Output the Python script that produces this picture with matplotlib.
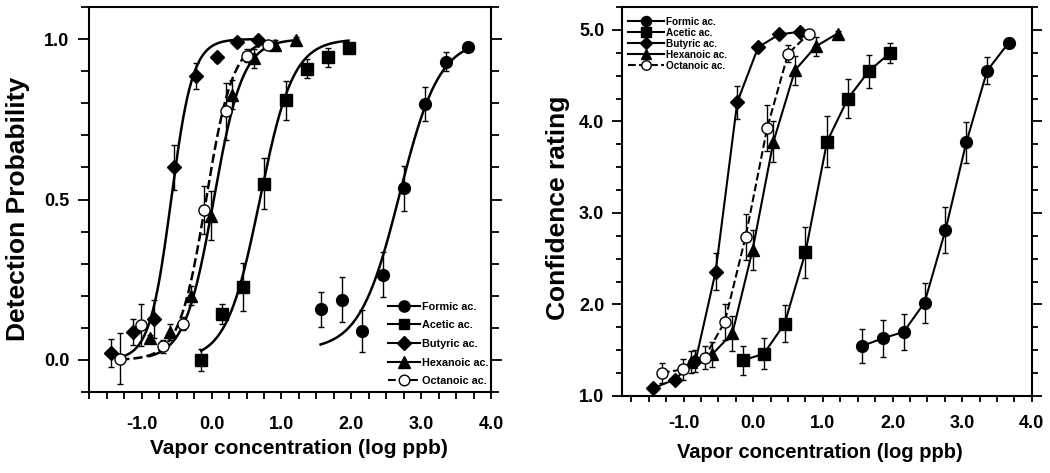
import numpy as np
import matplotlib
matplotlib.use("Agg")
import matplotlib.pyplot as plt
from matplotlib.ticker import MultipleLocator, FormatStrFormatter
from matplotlib.lines import Line2D

plt.rcParams['font.family'] = ['Liberation Sans', 'DejaVu Sans']
plt.rcParams['font.weight'] = 'bold'

# ---------------- data ----------------
series_names = ["Formic ac.", "Acetic ac.", "Butyric ac.", "Hexanoic ac.", "Octanoic ac."]

# vapor concentration (log ppb)
formic_x = [1.56, 1.86, 2.16, 2.46, 2.76, 3.06, 3.36, 3.67]
acetic_x = [-0.15, 0.15, 0.45, 0.75, 1.06, 1.36, 1.66, 1.96]
butyric_x = [-1.44, -1.13, -0.83, -0.54, -0.23, 0.07, 0.37, 0.67]
hexanoic_x = [-0.89, -0.59, -0.30, -0.01, 0.29, 0.60, 0.90, 1.21]
octanoic_x = [-1.31, -1.01, -0.70, -0.41, -0.11, 0.20, 0.50, 0.80]

# detection probability (left panel)
formic_p = [0.158, 0.187, 0.091, 0.265, 0.535, 0.799, 0.929, 0.976]
acetic_p = [0.0, 0.143, 0.228, 0.549, 0.809, 0.908, 0.943, 0.971]
butyric_p = [0.021, 0.088, 0.127, 0.60, 0.884, 0.943, 0.99, 0.997]
hexanoic_p = [0.067, 0.088, 0.20, 0.45, 0.827, 0.94, 0.983, 0.997]
octanoic_p = [0.004, 0.108, 0.042, 0.113, 0.468, 0.775, 0.948, 0.983]

formic_p_err = [0.055, 0.07, 0.065, 0.07, 0.07, 0.053, 0.03, 0.01]
acetic_p_err = [0.035, 0.03, 0.075, 0.08, 0.06, 0.03, 0.03, 0.015]
butyric_p_err = [0.044, 0.04, 0.06, 0.07, 0.04, 0.015, 0.01, 0.01]
hexanoic_p_err = [0.01, 0.025, 0.03, 0.075, 0.045, 0.03, 0.015, 0.01]
octanoic_p_err = [0.08, 0.066, 0.02, 0.02, 0.075, 0.089, 0.02, 0.01]

# fitted psychometric functions (logistic): midpoint, slope, lower asymptote, x-range
fit_mid = [2.69, 0.69, -0.58, 0.03, -0.08]
fit_slope = [3.5, 4.2, 6.5, 4.8, 5.2]
fit_floor = [0.03, 0.0, 0.0, 0.0, 0.0]
fit_start = [1.56, -0.15, -1.30, -0.89, -1.31]
fit_end = [3.67, 1.96, 0.67, 1.21, 0.80]

# confidence rating (right panel)
formic_c = [1.546, 1.63, 1.70, 2.02, 2.81, 3.77, 4.555, 4.86]
acetic_c = [1.39, 1.46, 1.79, 2.57, 3.78, 4.25, 4.55, 4.745]
butyric_c = [1.084, 1.18, 1.38, 2.36, 4.21, 4.81, 4.95, 4.98]
hexanoic_c = [1.375, 1.455, 1.685, 2.595, 3.78, 4.56, 4.82, 4.96]
octanoic_c = [1.255, 1.29, 1.42, 1.81, 2.74, 3.93, 4.74, 4.96]

formic_c_err = [0.19, 0.2, 0.2, 0.22, 0.25, 0.22, 0.15, 0.05]
acetic_c_err = [0.16, 0.17, 0.2, 0.28, 0.28, 0.21, 0.18, 0.11]
butyric_c_err = [0.03, 0.04, 0.12, 0.2, 0.18, 0.04, 0.03, 0.03]
hexanoic_c_err = [0.12, 0.14, 0.19, 0.22, 0.22, 0.16, 0.1, 0.03]
octanoic_c_err = [0.11, 0.11, 0.13, 0.2, 0.25, 0.25, 0.09, 0.03]

xs = [formic_x, acetic_x, butyric_x, hexanoic_x, octanoic_x]
ps = [formic_p, acetic_p, butyric_p, hexanoic_p, octanoic_p]
pes = [formic_p_err, acetic_p_err, butyric_p_err, hexanoic_p_err, octanoic_p_err]
cs = [formic_c, acetic_c, butyric_c, hexanoic_c, octanoic_c]
ces = [formic_c_err, acetic_c_err, butyric_c_err, hexanoic_c_err, octanoic_c_err]

markers = ['o', 's', 'D', '^', 'o']
msizes = [8.5, 8, 7, 9, 8]
faces = ['black', 'black', 'black', 'black', 'white']
lstyles = ['-', '-', '-', '-', '--']

fig = plt.figure(figsize=(10.5, 4.73), dpi=100)
axL = fig.add_axes([0.0852, 0.1712, 0.3824, 0.8140])
axR = fig.add_axes([0.5921, 0.1628, 0.3905, 0.8224])


def logistic(x, mid, slope, floor):
    return floor + (1 - floor) / (1 + np.exp(-slope * (x - mid)))


# left panel
for i in range(5):
    xx = np.linspace(fit_start[i], fit_end[i], 200)
    axL.plot(xx, logistic(xx, fit_mid[i], fit_slope[i], fit_floor[i]),
             color='black', lw=1.8, ls=lstyles[i], zorder=2)
for i in range(5):
    axL.errorbar(xs[i], ps[i], yerr=pes[i], fmt='none', ecolor='black',
                 elinewidth=1.0, capsize=2.5, capthick=1.0, zorder=3)
    axL.plot(xs[i], ps[i], ls='none', marker=markers[i], ms=msizes[i],
             mfc=faces[i], mec='black', mew=1.0, zorder=4)

# right panel
for i in range(5):
    axR.errorbar(xs[i], cs[i], yerr=ces[i], fmt='none', ecolor='black',
                 elinewidth=1.0, capsize=2.5, capthick=1.0, zorder=3)
    axR.plot(xs[i], cs[i], ls=lstyles[i], color='black', lw=1.5,
             marker=markers[i], ms=msizes[i], mfc=faces[i], mec='black',
             mew=1.0, zorder=4)

# axes formatting
axL.set_xlim(-1.75, 4.0)
axL.set_ylim(-0.1, 1.1)
axR.set_xlim(-1.89, 4.0)
axR.set_ylim(1.0, 5.25)

for ax in (axL, axR):
    ax.xaxis.set_major_locator(MultipleLocator(1.0))
    ax.xaxis.set_minor_locator(MultipleLocator(0.25))
    ax.xaxis.set_major_formatter(FormatStrFormatter('%.1f'))
    ax.yaxis.set_major_formatter(FormatStrFormatter('%.1f'))
    for s in ax.spines.values():
        s.set_linewidth(1.5)
    ax.tick_params(axis='both', which='both', direction='out', width=1.3,
                   labelsize=13, right=True, top=False)

axL.tick_params(axis='x', which='both', length=5, pad=12)
axR.tick_params(axis='x', which='both', length=4.5, pad=9)

axL.set_xlabel('Vapor concentration (log ppb)', fontsize=15, fontweight='bold')
axL.xaxis.set_label_coords(0.5225, -0.122)
axR.set_xlabel('Vapor concentration (log ppb)', fontsize=14.5, fontweight='bold')
axR.xaxis.set_label_coords(0.484, -0.121)

axL.yaxis.set_major_locator(MultipleLocator(0.5))
axL.yaxis.set_minor_locator(MultipleLocator(0.1))
axL.tick_params(axis='y', which='major', length=8, pad=6.5)
axL.tick_params(axis='y', which='minor', length=5.5)
axL.set_ylabel('Detection Probability', fontsize=19, fontweight='bold')
axL.yaxis.set_label_coords(-0.148, 0.475)

axR.yaxis.set_major_locator(MultipleLocator(1.0))
axR.yaxis.set_minor_locator(MultipleLocator(0.25))
axR.tick_params(axis='y', which='major', length=7, pad=5.5)
axR.tick_params(axis='y', which='minor', length=4.5)
axR.set_ylabel('Confidence rating', fontsize=19, fontweight='bold')
axR.yaxis.set_label_coords(-0.126, 0.483)

# legends
def handles(ms_scale):
    hs = []
    for i in range(5):
        hs.append(Line2D([], [], color='black', lw=1.5, ls=lstyles[i],
                         marker=markers[i], ms=msizes[i] * ms_scale,
                         mfc=faces[i], mec='black', mew=1.0))
    return hs

axL.legend(handles(0.95), series_names, loc='lower right',
           bbox_to_anchor=(0.995, 0.015), frameon=False,
           handlelength=3.0, handletextpad=0.2, labelspacing=0.8,
           borderpad=0, borderaxespad=0, prop={'weight': 'bold', 'size': 7.8})
axR.legend(handles(0.85), series_names, loc='upper left',
           bbox_to_anchor=(0.015, 0.975), frameon=False,
           handlelength=3.6, handletextpad=0.25, labelspacing=0.1,
           borderpad=0, borderaxespad=0, prop={'weight': 'bold', 'size': 7.2})

fig.savefig('out.png', dpi=100, facecolor='white')
